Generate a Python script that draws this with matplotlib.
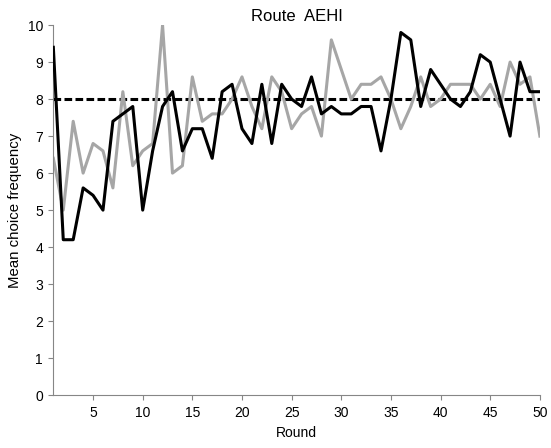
import matplotlib
matplotlib.use("Agg")
import matplotlib.pyplot as plt
import numpy as np

plt.rcParams['font.family'] = ['Liberation Sans', 'DejaVu Sans']

rounds = np.arange(1, 51)

# mean choice frequency per round, two groups
black = [9.4, 4.2, 4.2, 5.6, 5.4, 5.0, 7.4, 7.6, 7.8, 5.0,
         6.6, 7.8, 8.2, 6.6, 7.2, 7.2, 6.4, 8.2, 8.4, 7.2,
         6.8, 8.4, 6.8, 8.4, 8.0, 7.8, 8.6, 7.6, 7.8, 7.6,
         7.6, 7.8, 7.8, 6.6, 8.0, 9.8, 9.6, 7.8, 8.8, 8.4,
         8.0, 7.8, 8.2, 9.2, 9.0, 8.0, 7.0, 9.0, 8.2, 8.2]
gray = [6.4, 5.0, 7.4, 6.0, 6.8, 6.6, 5.6, 8.2, 6.2, 6.6,
        6.8, 10.0, 6.0, 6.2, 8.6, 7.4, 7.6, 7.6, 8.0, 8.6,
        7.8, 7.2, 8.6, 8.2, 7.2, 7.6, 7.8, 7.0, 9.6, 8.8,
        8.0, 8.4, 8.4, 8.6, 8.0, 7.2, 7.8, 8.6, 7.8, 8.0,
        8.4, 8.4, 8.4, 8.0, 8.4, 7.8, 9.0, 8.4, 8.6, 7.0]
reference = 8.0

fig = plt.figure(figsize=(5.51, 4.48), dpi=100)
ax = fig.add_axes([0.0968, 0.118, 0.883, 0.826])

ax.plot(rounds, [reference] * len(rounds), color='black', lw=2.2,
        dashes=(2.5, 1.1), zorder=1)
ax.plot(rounds, gray, color='#a6a6a6', lw=2.2, zorder=2)
ax.plot(rounds, black, color='black', lw=2.2, zorder=3)

ax.set_xlim(1, 50)
ax.set_ylim(0, 10)
ax.set_xticks(np.arange(5, 51, 5))
ax.set_yticks(np.arange(0, 11, 1))

for side in ['top', 'right']:
    ax.spines[side].set_visible(False)
for side in ['left', 'bottom']:
    ax.spines[side].set_color('#868686')
    ax.spines[side].set_linewidth(0.8)
ax.tick_params(axis='both', direction='out', length=3.5, width=0.8,
               color='#868686', labelsize=10, pad=4)

ax.set_xlabel('Round', fontsize=10, labelpad=5)
ax.set_ylabel('Mean choice frequency', fontsize=10.8, labelpad=4)
ax.set_title('Route  AEHI', fontsize=12, pad=3)

fig.savefig('out.png', dpi=100)
